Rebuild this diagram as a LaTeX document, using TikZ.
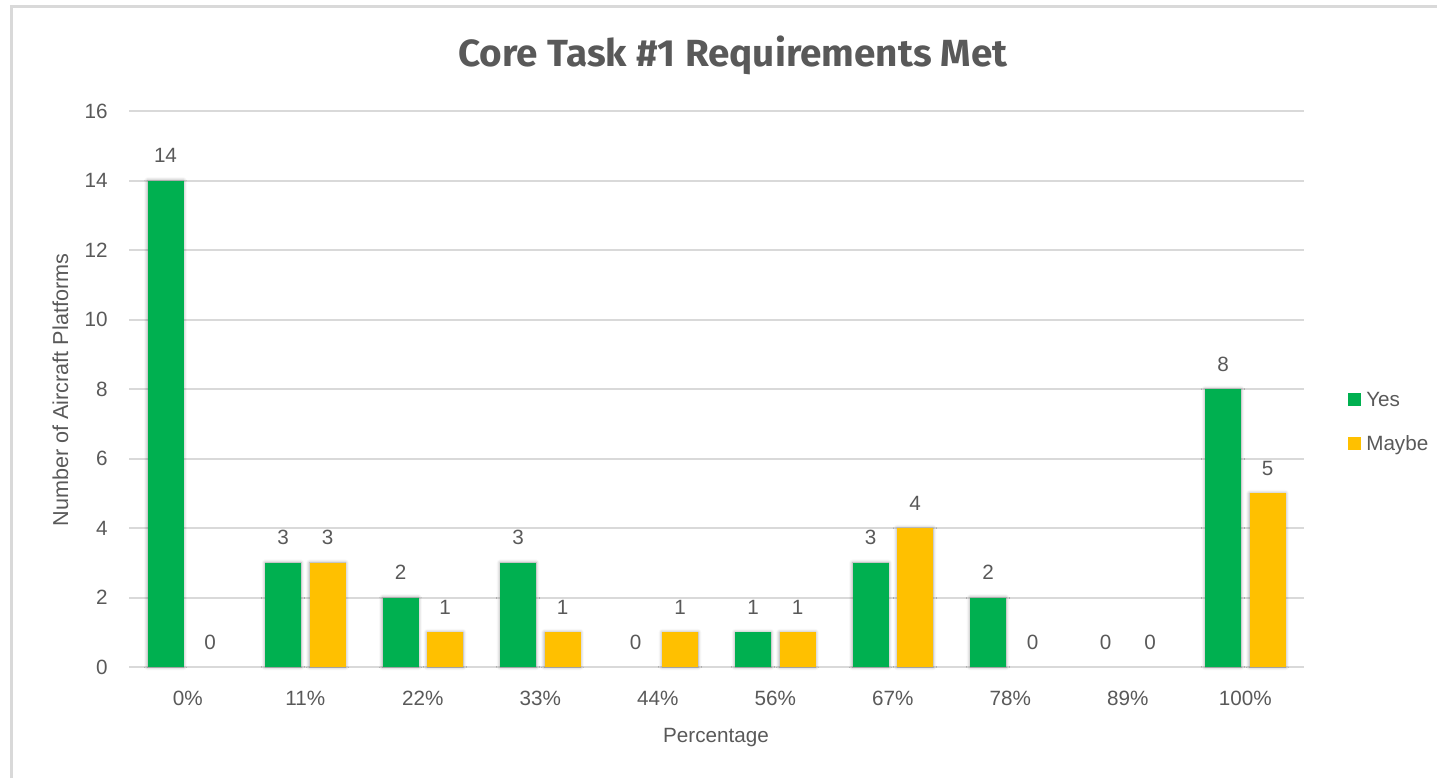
\documentclass[tikz,border=0pt]{standalone}
\usepackage{fontspec}
\setmainfont{Liberation Sans}
\newfontfamily\titlefont{Fira Sans}
\usepackage{graphicx}
\usetikzlibrary{shadows.blur}

\definecolor{yesgreen}{RGB}{0,176,80}
\definecolor{maybegold}{RGB}{255,192,0}
\definecolor{labelgrey}{RGB}{89,89,89}
\definecolor{gridgrey}{RGB}{217,217,217}

\tikzset{
  gridline/.style={draw=gridgrey, line width=1.5pt},
  ticklabel/.style={text=labelgrey, font=\fontsize{15.5}{18}\selectfont, inner sep=0pt},
  barlabel/.style={ticklabel, anchor=base},
  bar/.style={blur shadow={shadow xshift=0pt, shadow yshift=0pt, shadow blur radius=2.5pt, shadow opacity=40}},
}

\begin{document}
\begin{tikzpicture}[x=0.75pt,y=0.75pt,yscale=-1,xscale=1]
\useasboundingbox (0,0) rectangle (1437,778);

%Frame
\draw [gridgrey, line width=2.25pt] (11,778) -- (11,6) -- (1437,6) ;

% Title
\draw (733,66) node [anchor=base, text=labelgrey, inner sep=0pt] (title) {\resizebox{411.75pt}{23pt}{\titlefont\bfseries Core Task \#1 Requirements Met}};

%Gridlines and y ticks
\foreach \v in {0,2,...,16}{
  \draw [gridline] (129,667-34.75*\v) -- (1304,667-34.75*\v) ;
  \draw (108,667-34.75*\v) node [ticklabel, anchor=east] (ytick\v) {\v};
}

%Bars, values and categories
\foreach \pct/\yes/\maybe [count=\i from 0] in {0/14/0, 11/3/3, 22/2/1, 33/3/1, 44/0/1, 56/1/1, 67/3/4, 78/2/0, 89/0/0, 100/8/5}{
  \pgfmathsetmacro{\cx}{187.75+117.5*\i}
  \ifnum\yes>0
    \fill [yesgreen, bar] (\cx-40.25,667) rectangle (\cx-4.25,667-34.75*\yes) ;
  \fi
  \ifnum\maybe>0
    \fill [maybegold, bar] (\cx+4.25,667) rectangle (\cx+40.25,667-34.75*\maybe) ;
  \fi
  \draw (\cx-22.25,667-34.75*\yes-18) node [barlabel] (yes\i) {\yes};
  \draw (\cx+22.25,667-34.75*\maybe-18) node [barlabel] (maybe\i) {\maybe};
  \draw (\cx,705) node [ticklabel, anchor=base] (cat\i) {\pct\%};
}

% Axis titles
\draw (716,742) node [ticklabel, anchor=base] (xtitle) {Percentage};
\draw (68,390) node [ticklabel, anchor=base, rotate=90, font=\fontsize{16.2}{19}\selectfont] (ytitle) {Number of Aircraft Platforms};

% Legend
\fill [yesgreen] (1348,393) rectangle (1361,406) ;
\draw (1366,406) node [ticklabel, anchor=base west] (yeskey) {Yes};
\fill [maybegold] (1348,437) rectangle (1361,450) ;
\draw (1366,450.5) node [ticklabel, anchor=base west] (maybekey) {Maybe};

\end{tikzpicture}
\end{document}
